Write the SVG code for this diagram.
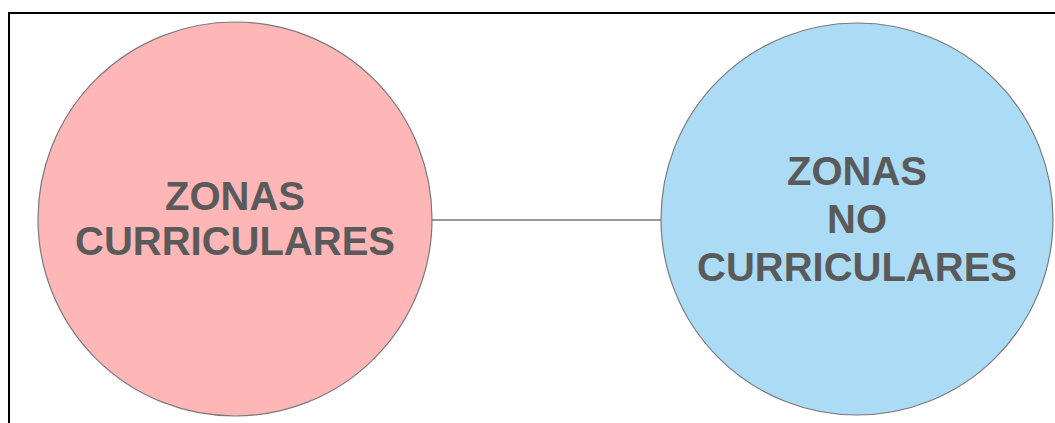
<svg xmlns="http://www.w3.org/2000/svg" width="1055" height="423" viewBox="0 0 1055 423">
<style>
.lbl{font-family:"Liberation Sans",Arial,sans-serif;font-weight:bold;font-size:40px;fill:#5a5a5a;text-anchor:middle}
.node{stroke:#7a7a7a;stroke-width:1.2}
</style>
<rect x="0" y="0" width="1055" height="423" fill="#ffffff"/>
<rect x="9" y="13" width="1060" height="420" fill="none" stroke="#000000" stroke-width="2"/>
<g id="connectors">
<line x1="432" y1="220" x2="661" y2="220" stroke="#777777" stroke-width="1.3"/>
</g>
<g id="node-curriculares">
<circle class="node" cx="235" cy="219" r="197" fill="#ffb6b6"/>
<text class="lbl" x="235" y="210">ZONAS</text>
<text class="lbl" x="235" y="255">CURRICULARES</text>
</g>
<g id="node-no-curriculares">
<circle class="node" cx="857" cy="219" r="196" fill="#acdcf5"/>
<text class="lbl" x="857" y="185">ZONAS</text>
<text class="lbl" x="857" y="233">NO</text>
<text class="lbl" x="857" y="281">CURRICULARES</text>
</g>
</svg>
